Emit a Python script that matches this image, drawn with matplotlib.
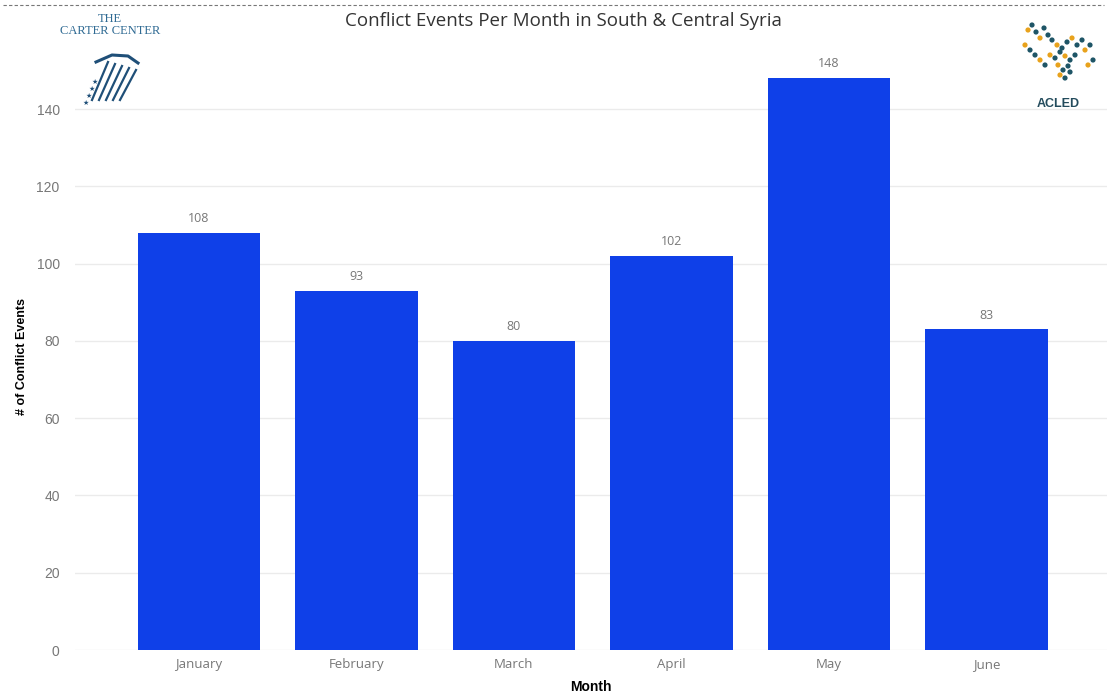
import matplotlib.pyplot as plt
from matplotlib.lines import Line2D

months = ['January', 'February', 'March', 'April', 'May', 'June']
events = [108, 93, 80, 102, 148, 83]
yticks = [0, 20, 40, 60, 80, 100, 120, 140]

bar_color = '#0F40E8'
grey = '#777777'

fig = plt.figure(figsize=(11.07, 6.94), dpi=100)
ax = fig.add_axes([75 / 1107, 44 / 694, 1032 / 1107, 587.3 / 694])

x = range(len(months))
ax.bar(x, events, width=0.775, color=bar_color, zorder=3)
for i, v in zip(x, events):
    ax.text(i, v + 2, str(v), ha='center', va='bottom', fontsize=9,
            color=grey, family='Open Sans')

ax.set_xlim(-0.787, 5.765)
ax.set_ylim(0, 152)
ax.set_yticks(yticks)
ax.set_xticks(list(x))
ax.set_xticklabels(months, family='Open Sans', fontsize=9.5, color=grey)
ax.set_yticklabels([str(t) for t in yticks], family='Liberation Sans',
                   fontsize=10, color=grey)
ax.tick_params(axis='x', length=0, pad=6)
ax.tick_params(axis='y', length=0, pad=11)
ax.grid(axis='y', color='#EBEBEB', linewidth=1, zorder=0)
for s in ax.spines.values():
    s.set_visible(False)

ax.set_xlabel('Month', fontsize=10, fontweight='bold', family='Liberation Sans',
              labelpad=6)
ax.set_ylabel('# of Conflict Events', fontsize=9, fontweight='bold',
              family='Liberation Sans', labelpad=6)

# title and dashed top border
fig.add_artist(Line2D([0.003, 0.997], [1 - 5 / 694, 1 - 5 / 694], color='#777777',
                      linestyle=(0, (3, 2)), linewidth=0.8))
fig.text(563 / 1107, 1 - 21 / 694, 'Conflict Events Per Month in South & Central Syria',
         ha='center', va='center', fontsize=13.5, color='#333333', family='Open Sans')

# Carter Center logo (text + stars)
fig.text(110 / 1107, 1 - 25 / 694, 'THE\nCARTER CENTER', ha='center', va='center',
         fontsize=9, color='#2F6A93', family='Liberation Serif', linespacing=1.1)
for k in range(4):
    fig.text((86 + k * 3) / 1107, 1 - (103 - k * 7) / 694, '★', ha='center',
             va='center', fontsize=5, color='#1F4F78', family='DejaVu Sans')
for k in range(5):
    fig.add_artist(Line2D([(92 + k * 7) / 1107, (108 + k * 7) / 1107],
                          [1 - 100 / 694, 1 - (62 + k * 2) / 694],
                          color='#1F4F78', linewidth=1.6))
fig.add_artist(Line2D([96 / 1107, 112 / 1107, 128 / 1107, 138 / 1107],
                      [1 - 62 / 694, 1 - 55 / 694, 1 - 56 / 694, 1 - 63 / 694],
                      color='#1F4F78', linewidth=2.2))

# ACLED logo (text + dots)
fig.text(1058 / 1107, 1 - 104 / 694, 'ACLED', ha='center', va='center', fontsize=9,
         fontweight='bold', color='#234B5C', family='Liberation Sans')
dots_x = [1025, 1030, 1035, 1040, 1045, 1052, 1057, 1062, 1067, 1072, 1077, 1082,
          1050, 1055, 1060, 1065, 1070, 1075, 1058, 1063, 1068, 1060, 1065, 1070,
          1028, 1032, 1036, 1040, 1044, 1048, 1085, 1090, 1093, 1088]
dots_y = [45, 50, 55, 60, 65, 40, 45, 48, 42, 38, 45, 40, 55, 58, 52, 56, 60, 55,
          65, 70, 66, 75, 78, 72, 30, 25, 32, 38, 28, 35, 50, 45, 60, 65]
cols = ['#E8A21C' if i % 3 == 0 else '#1E5566' for i in range(len(dots_x))]
ax2 = fig.add_axes([0, 0, 1, 1], facecolor='none')
ax2.set_xlim(0, 1107)
ax2.set_ylim(694, 0)
ax2.axis('off')
ax2.scatter(dots_x, dots_y, s=14, c=cols, linewidths=0)

fig.savefig('out.png', dpi=100)
